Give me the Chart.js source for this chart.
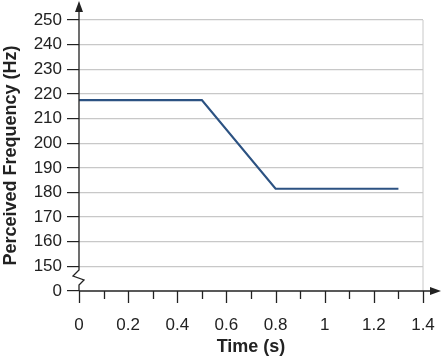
<!DOCTYPE html>
<html>
<head>
<meta charset="utf-8">
<script src="https://cdn.jsdelivr.net/npm/chart.js@4/dist/chart.umd.min.js"></script>
<style>
  html, body { margin: 0; padding: 0; background: #fff; }
  #wrap { width: 444px; height: 358px; }
</style>
</head>
<body>
<div id="wrap"><canvas id="freqChart" width="444" height="358"></canvas></div>
<script>
// data
const times = [0, 0.5, 0.8, 1.3];
const freqs = [217.5, 217.5, 181.5, 181.5];
const yTicks = [140, 150, 160, 170, 180, 190, 200, 210, 220, 230, 240, 250]; // 140 is shown as "0" (axis break)
const xTicks = [0, 0.2, 0.4, 0.6, 0.8, 1, 1.2, 1.4];
const xMinorTicks = [0.1, 0.3, 0.5, 0.7, 0.9, 1.1, 1.3];

const axisColor = '#222';
const gridColor = '#c8c8c8';
const lineColor = '#2c5282';
const fontFamily = '"Liberation Sans", Arial, sans-serif';

// axes arrows, x tick marks, y-axis break, right border
const axisDecor = {
    id: 'axisDecor',
    afterDraw(chart) {
        const { ctx, chartArea, scales } = chart;
        const x = scales.x, y = scales.y;
        const x0 = x.getPixelForValue(0);
        const yBase = y.getPixelForValue(140);
        ctx.save();
        // right border at 1.4
        ctx.strokeStyle = gridColor;
        ctx.lineWidth = 1;
        ctx.beginPath();
        ctx.moveTo(x.getPixelForValue(1.4), chartArea.top);
        ctx.lineTo(x.getPixelForValue(1.4), yBase);
        ctx.stroke();

        ctx.strokeStyle = axisColor;
        ctx.fillStyle = axisColor;
        ctx.lineWidth = 1.3;
        // x axis line + arrow
        ctx.beginPath();
        ctx.moveTo(x0, yBase);
        ctx.lineTo(432, yBase);
        ctx.stroke();
        ctx.beginPath();
        ctx.moveTo(441, yBase);
        ctx.lineTo(430, yBase - 4);
        ctx.lineTo(430, yBase + 4);
        ctx.closePath();
        ctx.fill();
        // x tick marks
        xTicks.forEach(v => {
            const px = Math.round(x.getPixelForValue(v)) + 0.5;
            ctx.beginPath();
            ctx.moveTo(px, yBase);
            ctx.lineTo(px, yBase + 12);
            ctx.stroke();
        });
        xMinorTicks.forEach(v => {
            const px = Math.round(x.getPixelForValue(v)) + 0.5;
            ctx.beginPath();
            ctx.moveTo(px, yBase);
            ctx.lineTo(px, yBase + 8);
            ctx.stroke();
        });
        // y axis with break and arrow
        ctx.beginPath();
        ctx.moveTo(x0, yBase);
        ctx.lineTo(x0, yBase - 6);
        ctx.lineTo(x0 + 5, yBase - 11);
        ctx.lineTo(x0 - 6, yBase - 15);
        ctx.lineTo(x0, yBase - 21);
        ctx.lineTo(x0, 10);
        ctx.stroke();
        ctx.beginPath();
        ctx.moveTo(x0, 1);
        ctx.lineTo(x0 - 4, 12);
        ctx.lineTo(x0 + 4, 12);
        ctx.closePath();
        ctx.fill();
        ctx.restore();
    }
};

new Chart(document.getElementById('freqChart'), {
    type: 'line',
    data: {
        datasets: [{
            data: times.map((t, i) => ({ x: t, y: freqs[i] })),
            borderColor: lineColor,
            borderWidth: 2.2,
            pointRadius: 0,
            tension: 0,
            fill: false
        }]
    },
    options: {
        responsive: false,
        animation: false,
        layout: { padding: { top: 20, right: 21, bottom: 0, left: 0 } },
        plugins: { legend: { display: false }, tooltip: { enabled: false } },
        scales: {
            x: {
                type: 'linear',
                min: 0,
                max: 1.4,
                afterBuildTicks: s => { s.ticks = xTicks.map(v => ({ value: v })); },
                afterFit: s => { s.height = 67; s.paddingRight = 0; s.paddingLeft = 0; },
                grid: { display: false },
                border: { display: false },
                ticks: {
                    color: axisColor,
                    padding: 16,
                    maxRotation: 0,
                    font: { family: fontFamily, size: 17 },
                    callback: v => String(Math.round(v * 10) / 10)
                },
                title: {
                    display: true,
                    text: 'Time (s)',
                    color: axisColor,
                    padding: { top: 0, bottom: 0 },
                    font: { family: fontFamily, size: 18, weight: 'bold' }
                }
            },
            y: {
                type: 'linear',
                min: 140,
                max: 250,
                afterBuildTicks: s => { s.ticks = yTicks.map(v => ({ value: v })); },
                afterFit: s => { s.width = 79; s.paddingTop = 0; s.paddingBottom = 0; },
                grid: {
                    color: ctx => ctx.tick && ctx.tick.value === 140 ? 'rgba(0,0,0,0)' : gridColor,
                    tickColor: axisColor,
                    tickLength: 12,
                    lineWidth: 1.2
                },
                border: { display: false },
                ticks: {
                    color: axisColor,
                    padding: 5,
                    font: { family: fontFamily, size: 17 },
                    callback: v => v === 140 ? '0' : String(v)
                },
                title: {
                    display: true,
                    text: 'Perceived Frequency (Hz)',
                    color: axisColor,
                    padding: { top: 0, bottom: 0 },
                    font: { family: fontFamily, size: 18, weight: 'bold' }
                }
            }
        }
    },
    plugins: [axisDecor]
});
</script>
</body>
</html>
